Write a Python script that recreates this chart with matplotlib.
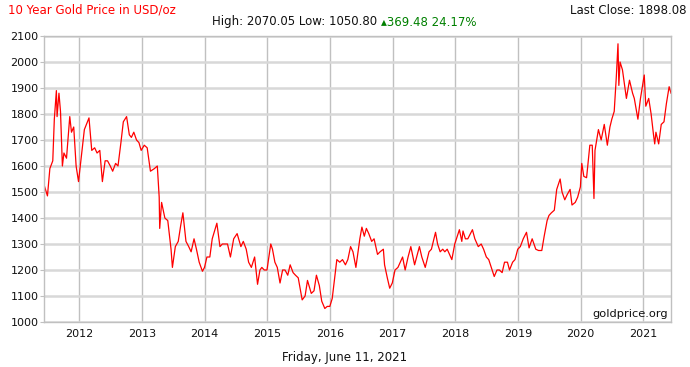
"""
10 year gold price chart (goldprice.org style), saved as out.png
"""

import matplotlib
matplotlib.use("Agg")
import matplotlib.pyplot as plt
import matplotlib.dates as mdates
import pandas as pd

# values (approx. every two weeks, plus spikes)
dates = [
    "2011-06-11", "2011-06-24", "2011-07-01", "2011-07-15", "2011-08-01", "2011-08-10", "2011-08-22",
    "2011-08-26", "2011-09-06", "2011-09-15", "2011-09-26", "2011-10-05", "2011-10-20", "2011-11-08",
    "2011-11-18", "2011-12-01", "2011-12-15", "2011-12-29",
    "2012-01-15", "2012-02-01", "2012-02-28", "2012-03-15", "2012-04-01", "2012-04-15", "2012-05-01",
    "2012-05-16", "2012-06-01", "2012-06-15", "2012-07-01", "2012-07-15", "2012-08-01", "2012-08-15",
    "2012-09-01", "2012-09-15", "2012-10-04", "2012-10-20", "2012-11-01", "2012-11-15", "2012-12-01",
    "2012-12-15", "2012-12-28",
    "2013-01-15", "2013-02-01", "2013-02-20", "2013-03-15", "2013-04-01", "2013-04-12", "2013-04-15",
    "2013-04-26", "2013-05-15", "2013-06-01", "2013-06-20", "2013-06-28", "2013-07-15", "2013-08-01",
    "2013-08-15", "2013-08-28", "2013-09-15", "2013-10-01", "2013-10-15", "2013-11-01", "2013-11-15",
    "2013-12-01", "2013-12-20",
    "2014-01-01", "2014-01-15", "2014-02-01", "2014-02-15", "2014-03-14", "2014-04-01", "2014-04-15",
    "2014-05-01", "2014-05-15", "2014-06-01", "2014-06-20", "2014-07-10", "2014-08-01", "2014-08-15",
    "2014-09-01", "2014-09-15", "2014-10-01", "2014-10-20", "2014-11-06", "2014-11-20", "2014-12-01",
    "2014-12-15", "2014-12-31",
    "2015-01-22", "2015-02-01", "2015-02-15", "2015-03-01", "2015-03-17", "2015-04-01", "2015-04-15",
    "2015-05-01", "2015-05-15", "2015-06-01", "2015-06-15", "2015-07-01", "2015-07-24", "2015-08-10",
    "2015-08-24", "2015-09-15", "2015-10-01", "2015-10-15", "2015-11-01", "2015-11-15", "2015-12-03",
    "2015-12-17",
    "2016-01-01", "2016-01-15", "2016-02-11", "2016-02-28", "2016-03-15", "2016-04-01", "2016-04-15",
    "2016-05-01", "2016-05-15", "2016-06-01", "2016-06-24", "2016-07-06", "2016-07-20", "2016-08-01",
    "2016-08-15", "2016-09-01", "2016-09-15", "2016-10-05", "2016-10-20", "2016-11-08", "2016-11-15",
    "2016-12-01", "2016-12-15", "2016-12-30",
    "2017-01-15", "2017-02-01", "2017-02-28", "2017-03-15", "2017-04-01", "2017-04-17", "2017-05-09",
    "2017-06-06", "2017-06-20", "2017-07-10", "2017-08-01", "2017-08-15", "2017-09-08", "2017-09-20",
    "2017-10-05", "2017-10-20", "2017-11-01", "2017-11-15", "2017-12-12", "2017-12-29",
    "2018-01-25", "2018-02-08", "2018-02-15", "2018-03-01", "2018-03-15", "2018-04-11", "2018-04-25",
    "2018-05-15", "2018-06-01", "2018-06-15", "2018-07-01", "2018-07-15", "2018-08-16", "2018-09-01",
    "2018-09-15", "2018-10-01", "2018-10-15", "2018-11-01", "2018-11-13", "2018-12-01", "2018-12-15",
    "2018-12-31",
    "2019-01-15", "2019-02-01", "2019-02-20", "2019-03-07", "2019-03-25", "2019-04-15", "2019-05-01",
    "2019-05-20", "2019-06-03", "2019-06-20", "2019-07-01", "2019-07-15", "2019-08-01", "2019-08-15",
    "2019-09-04", "2019-09-15", "2019-10-01", "2019-10-15", "2019-11-01", "2019-11-12", "2019-12-01",
    "2019-12-15", "2019-12-31",
    "2020-01-08", "2020-01-20", "2020-02-05", "2020-02-24", "2020-03-09", "2020-03-19", "2020-03-25",
    "2020-04-14", "2020-04-30", "2020-05-18", "2020-06-05", "2020-06-20", "2020-07-01", "2020-07-15",
    "2020-07-27", "2020-08-06", "2020-08-11", "2020-08-18", "2020-09-01", "2020-09-24", "2020-10-12",
    "2020-10-30", "2020-11-09", "2020-11-30", "2020-12-15",
    "2021-01-06", "2021-01-15", "2021-02-01", "2021-02-15", "2021-03-01", "2021-03-08", "2021-03-15",
    "2021-03-31", "2021-04-15", "2021-05-01", "2021-05-15", "2021-05-31", "2021-06-11",
]
prices = [
    1528, 1500, 1485, 1590, 1620, 1780, 1890,
    1790, 1880, 1810, 1600, 1650, 1630, 1790,
    1730, 1750, 1600, 1540,
    1640, 1740, 1785, 1660, 1670, 1650, 1660,
    1540, 1620, 1620, 1600, 1580, 1610, 1600,
    1690, 1770, 1790, 1720, 1710, 1730, 1700,
    1690, 1660,
    1680, 1670, 1580, 1590, 1600, 1480, 1360,
    1460, 1400, 1390, 1280, 1210, 1290, 1310,
    1370, 1420, 1310, 1290, 1270, 1320, 1280,
    1230, 1195,
    1210, 1250, 1250, 1320, 1380, 1290, 1300,
    1300, 1300, 1250, 1320, 1340, 1290, 1310,
    1280, 1230, 1210, 1250, 1145, 1200, 1210,
    1200, 1200,
    1300, 1280, 1230, 1210, 1150, 1200, 1200,
    1180, 1220, 1190, 1180, 1170, 1085, 1100,
    1160, 1110, 1120, 1180, 1140, 1080, 1052,
    1060,
    1060, 1090, 1240, 1230, 1240, 1220, 1240,
    1290, 1270, 1210, 1320, 1365, 1330, 1360,
    1340, 1310, 1320, 1260, 1270, 1280, 1220,
    1170, 1130, 1150,
    1200, 1210, 1250, 1200, 1250, 1290, 1220,
    1290, 1250, 1210, 1270, 1280, 1345, 1300,
    1270, 1280, 1270, 1280, 1240, 1300,
    1355, 1310, 1350, 1320, 1320, 1355, 1320,
    1290, 1300, 1280, 1250, 1240, 1175, 1200,
    1200, 1190, 1230, 1230, 1200, 1230, 1240,
    1280,
    1290, 1320, 1345, 1285, 1320, 1280, 1275,
    1275, 1330, 1390, 1410, 1420, 1430, 1510,
    1550, 1500, 1470, 1490, 1510, 1450, 1460,
    1480, 1520,
    1610, 1560, 1555, 1680, 1680, 1475, 1660,
    1740, 1700, 1760, 1680, 1750, 1780, 1810,
    1940, 2070, 1910, 2000, 1970, 1860, 1930,
    1880, 1860, 1780, 1860,
    1950, 1830, 1860, 1800, 1720, 1685, 1730,
    1685, 1760, 1770, 1840, 1905, 1880,
]
year_ticks = list(range(2012, 2022))
y_ticks = list(range(1000, 2101, 100))


def main():
    x = pd.to_datetime(dates)

    fig = plt.figure(figsize=(6.9, 3.67), dpi=100)
    ax = fig.add_axes([0.0638, 0.1226, 0.9087, 0.7793])

    ax.plot(x, prices, color="#ff0000", lw=0.9)

    ax.set_xlim(pd.Timestamp("2011-06-11"), pd.Timestamp("2021-06-11"))
    ax.set_ylim(1000, 2100)
    ax.set_yticks(y_ticks)
    ax.set_xticks([pd.Timestamp(f"{y}-01-01") for y in year_ticks])
    ax.xaxis.set_major_formatter(mdates.DateFormatter("%Y"))

    ax.grid(axis="y", color="#d8d8d8", lw=1.8)
    ax.grid(axis="x", color="#c0c0c0", lw=1.0)
    ax.set_axisbelow(True)
    for s in ax.spines.values():
        s.set_color("#c0c0c0")
        s.set_linewidth(1.0)
    ax.tick_params(axis="both", labelsize=8, color="#c0c0c0", labelcolor="#111111")
    ax.tick_params(axis="y", length=3, pad=1)
    ax.tick_params(axis="x", length=0, pad=5)

    ax.text(0.995, 0.012, "goldprice.org", transform=ax.transAxes,
            ha="right", va="bottom", fontsize=8.2, color="#111111")

    fig.text(8 / 690, 1 - 10 / 367, "10 Year Gold Price in USD/oz", color="#ff0000",
             fontsize=8.5, ha="left", va="center")
    fig.text(687 / 690, 1 - 10 / 367, "Last Close: 1898.08", color="#111111",
             fontsize=8.5, ha="right", va="center")
    t = fig.text(212 / 690, 1 - 22 / 367, "High: 2070.05 Low: 1050.80 ", color="#111111",
                 fontsize=8.5, ha="left", va="center")
    fig.canvas.draw()
    bb = t.get_window_extent()
    fig.text(bb.x1 / fig.bbox.width, 1 - 22 / 367, "\u25b4369.48 24.17%", color="#008000",
             fontsize=8.5, ha="left", va="center")
    fig.text(345 / 690, 1 - 358 / 367, "Friday, June 11, 2021", color="#111111",
             fontsize=8.5, ha="center", va="center")

    fig.savefig("out.png", dpi=100)


if __name__ == "__main__":
    main()
